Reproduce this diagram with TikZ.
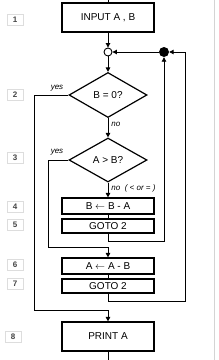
\documentclass[tikz,border=0pt]{standalone}
\usepackage{fontspec}
\setmainfont{Liberation Sans}
\usetikzlibrary{shapes.geometric,arrows.meta}
\definecolor{numgray}{HTML}{DDDDDD}
\definecolor{numtext}{HTML}{444444}
\definecolor{bordergray}{HTML}{D4D4D4}
\begin{document}
\begin{tikzpicture}[x=1pt,y=-1pt,
  flowbox/.style={draw,line width=1.2pt,minimum width=92pt,inner sep=0pt,font=\fontsize{10}{11}\selectfont},
  decision/.style={draw,diamond,line width=1.2pt,minimum width=78pt,minimum height=45pt,inner sep=0pt,font=\fontsize{10}{11}\selectfont},
  numbox/.style={draw=numgray,line width=0.6pt,minimum width=16pt,minimum height=11pt,inner sep=0pt,text=numtext,font=\fontsize{8}{9}\selectfont\bfseries},
  lbl/.style={font=\fontsize{8}{9}\selectfont\itshape,inner sep=0pt},
  conn/.style={line width=0.9pt},
  arr/.style={conn,-{Triangle[length=4.5pt,width=4.5pt]}}]
\useasboundingbox (0,0) rectangle (218,360);
\fill[white] (0,0) rectangle (218,360);
\draw[bordergray,line width=0.8pt] (214,0) -- (214,360);
% nodes
\node[flowbox,minimum height=29pt] (input) at (108,17.5) {INPUT A , B};
\node[draw,circle,line width=0.9pt,minimum size=8pt,inner sep=0pt] (oc) at (108,52) {};
\node[fill,circle,minimum size=10pt,inner sep=0pt] (fc) at (164,52) {};
\node[decision] (d1) at (108,95) {B = 0?};
\node[decision,minimum height=44pt] (d2) at (108,160) {A > B?};
\node[flowbox,minimum height=16pt] (b4) at (108,206) {B \(\leftarrow\) B - A};
\node[flowbox,minimum height=14pt] (b5) at (108,226) {GOTO 2};
\node[flowbox,minimum height=16pt] (b6) at (108,266) {A \(\leftarrow\) A - B};
\node[flowbox,minimum height=14pt] (b7) at (108,286) {GOTO 2};
\node[flowbox,minimum height=29pt] (print) at (108,336.5) {PRINT A};
% number labels
\node[numbox] (n1) at (15,20) {1};
\node[numbox] (n2) at (15,95) {2};
\node[numbox] (n3) at (15,158) {3};
\node[numbox] (n4) at (15,207) {4};
\node[numbox] (n5) at (15,225) {5};
\node[numbox] (n6) at (15,265) {6};
\node[numbox] (n7) at (15,284) {7};
\node[numbox] (n8) at (13,337) {8};
% free ends
\coordinate (top) at (108,0);
\coordinate (bot) at (108,360);
% connectors
\draw[conn] (top) -- (input.north);
\draw[arr] (input.south) -- (oc.north);
\draw[arr] (oc.south) -- (d1.north);
\draw[arr] (fc.west) -- (oc.east);
\draw[arr] (d1.south) -- node[lbl,right,pos=0.3,xshift=3pt] (lno1) {no} (d2.north);
\draw[arr] (d1.west) -- (34,95) -- (34,310) -- (108,310) -- (print.north);
\node[lbl] (lyes1) at (57,88) {yes};
\draw[arr] (d2.south) -- node[lbl,right,pos=0.4,xshift=3pt] (lno2) {no\ \ ( < or = )} (b4.north);
\draw[arr] (d2.west) -- (48,160) -- (48,247) -- (108,247) -- (b6.north);
\node[lbl] (lyes2) at (57,152) {yes};
\draw[conn] (b4.south) -- (b5.north);
\draw[conn] (b6.south) -- (b7.north);
\draw[arr] (b5.south) -- (108,241) -- (164,241) -- (fc.south);
\draw[arr] (b7.south) -- (108,301) -- (185,301) -- (185,52) -- (fc.east);
\draw[conn] (print.south) -- (bot);
\end{tikzpicture}
\end{document}
